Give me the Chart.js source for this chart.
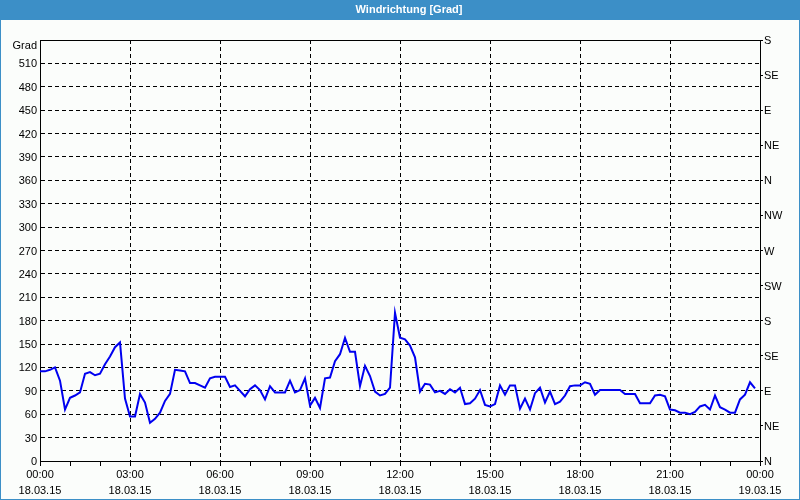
<!DOCTYPE html>
<html>
<head>
<meta charset="utf-8">
<script src="https://cdn.jsdelivr.net/npm/chart.js@4"></script>
<style>
  html, body { margin: 0; padding: 0; background: #fbfdfb; }
  #wrap { width: 800px; height: 500px; position: relative; }
</style>
</head>
<body>
<div id="wrap"><canvas id="c"></canvas></div>
<script>
// Wind direction in degrees, one value every 10 minutes from 18.03.15 00:00
const values = [
  115,115,117,120,103,66,81,84,88,112,
  114,110,112,124,134,146,152,80,57,57,
  86,75,49,54,62,77,86,117,116,115,
  100,100,97,94,106,108,108,108,95,97,
  90,83,92,97,91,79,96,88,88,88,
  103,88,91,106,71,81,68,106,107,128,
  137,158,140,140,96,122,109,89,84,86,
  94,190,158,156,148,133,89,99,98,88,
  90,86,92,88,94,73,74,80,91,72,
  70,73,97,85,97,97,67,80,66,87,
  94,75,89,73,76,84,96,97,97,101,
  99,85,91,91,91,91,91,86,86,86,
  74,74,74,84,85,83,66,65,62,62,
  60,63,70,72,66,84,69,66,62,62,
  79,85,101,93
];
const tickTimes = ['00:00','03:00','06:00','09:00','12:00','15:00','18:00','21:00','00:00'];
const tickDates = ['18.03.15','18.03.15','18.03.15','18.03.15','18.03.15','18.03.15','18.03.15','18.03.15','19.03.15'];
const compass = ['N','NE','E','SE','S','SW','W','NW','N','NE','E','SE','S'];
const titleText = 'Windrichtung [Grad]';
const unitText = 'Grad';

const points = values.map((v, i) => ({ x: i / 6, y: v }));

Chart.defaults.font.family = "'Liberation Sans', Arial, sans-serif";
Chart.defaults.font.size = 11;
Chart.defaults.color = '#000';

const framePlugin = {
  id: 'frame',
  beforeDraw(chart) {
    const ctx = chart.ctx;
    const w = chart.width, h = chart.height;
    ctx.save();
    ctx.fillStyle = '#fbfdfb';
    ctx.fillRect(0, 0, w, h);
    ctx.fillStyle = '#3c8fc7';
    ctx.fillRect(0, 0, w, 20);
    ctx.strokeStyle = '#3c8fc7';
    ctx.lineWidth = 1;
    ctx.strokeRect(0.5, 0.5, w - 1, h - 1);
    ctx.fillStyle = '#ffffff';
    ctx.font = "bold 11px 'Liberation Sans', Arial, sans-serif";
    ctx.textAlign = 'center';
    ctx.textBaseline = 'middle';
    ctx.fillText(titleText, 409, 10);
    ctx.restore();
  },
  afterDraw(chart) {
    const ctx = chart.ctx;
    const a = chart.chartArea;
    ctx.save();
    ctx.strokeStyle = '#000';
    ctx.lineWidth = 1;
    ctx.beginPath();
    ctx.moveTo(Math.round(a.left), Math.round(a.top) + 0.5);
    ctx.lineTo(Math.round(a.right) + 1, Math.round(a.top) + 0.5);
    ctx.stroke();
    ctx.fillStyle = '#000';
    ctx.font = "11px 'Liberation Sans', Arial, sans-serif";
    ctx.textAlign = 'right';
    ctx.textBaseline = 'middle';
    ctx.fillText(unitText, 37, 46);
    ctx.restore();
  }
};

new Chart(document.getElementById('c'), {
  type: 'line',
  data: {
    datasets: [{
      data: points,
      borderColor: '#0000f0',
      borderWidth: 2,
      pointRadius: 0,
      tension: 0,
      fill: false
    }]
  },
  options: {
    responsive: true,
    maintainAspectRatio: false,
    animation: false,
    layout: { padding: { top: 40, left: 0, right: 0, bottom: 0 } },
    plugins: { legend: { display: false }, tooltip: { enabled: false }, title: { display: false } },
    scales: {
      x: {
        type: 'linear',
        min: 0, max: 24,
        afterFit: s => { s.height = 39; },
        ticks: {
          stepSize: 1, autoSkip: false, maxRotation: 0, padding: 1,
          font: { lineHeight: 1.45 },
          callback: v => (v % 3 === 0 ? [tickTimes[v / 3], tickDates[v / 3]] : '')
        },
        grid: {
          color: c => (c.tick && c.tick.value % 3 === 0 ? '#000' : 'rgba(0,0,0,0)'),
          tickColor: '#000',
          tickLength: 5,
          lineWidth: 1
        },
        border: { display: true, color: '#000', width: 1, dash: [4, 3] }
      },
      y: {
        type: 'linear',
        position: 'left',
        min: 0, max: 540,
        afterFit: s => { s.width = 40; },
        ticks: {
          stepSize: 30, padding: 3, labelOffset: 1,
          callback: v => (v === 540 ? '' : String(v))
        },
        grid: { color: '#000', drawTicks: false, lineWidth: 1 },
        border: { display: true, color: '#000', width: 1, dash: [4, 3] }
      },
      y2: {
        type: 'linear',
        position: 'right',
        min: 0, max: 540,
        afterFit: s => { s.width = 40; },
        ticks: {
          stepSize: 45, padding: 1, labelOffset: 1,
          callback: v => compass[Math.round(v / 45)]
        },
        grid: { drawOnChartArea: false, color: '#000', tickColor: '#000', tickLength: 3 },
        border: { display: true, color: '#000', width: 1 }
      }
    }
  },
  plugins: [framePlugin]
});
</script>
</body>
</html>
